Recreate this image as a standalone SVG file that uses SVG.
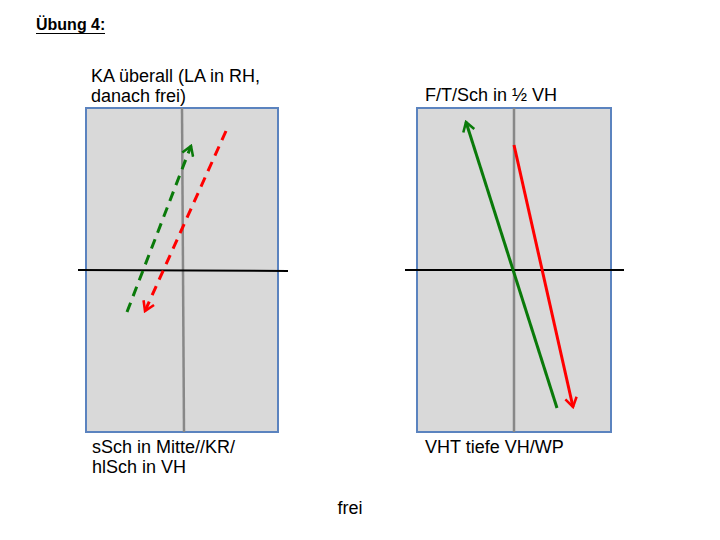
<svg xmlns="http://www.w3.org/2000/svg" width="720" height="540" viewBox="0 0 720 540">
<style>
text{font-family:"Liberation Sans",Arial,sans-serif;font-size:18px;fill:#000}
.field{fill:#d9d9d9;stroke:#5b83bf;stroke-width:2}
.mid{stroke:#888;stroke-width:2.5}
.cross{stroke:#000;stroke-width:2}
.g{stroke:#0a7a0a;stroke-width:3;fill:none}
.r{stroke:#f00;stroke-width:3;fill:none}
.d{stroke-dasharray:10 7}
</style>
<defs>
<marker id="ag" viewBox="0 0 12 12" refX="10" refY="6" markerWidth="4.6" markerHeight="4.6" orient="auto" markerUnits="strokeWidth">
<path d="M2,1 L10,6 L2,11" fill="none" stroke="#0a7a0a" stroke-width="2.2"/>
</marker>
<marker id="ar" viewBox="0 0 12 12" refX="10" refY="6" markerWidth="4.6" markerHeight="4.6" orient="auto" markerUnits="strokeWidth">
<path d="M2,1 L10,6 L2,11" fill="none" stroke="#f00" stroke-width="2.2"/>
</marker>
</defs>
<rect width="720" height="540" fill="#fff"/>
<g id="title">
<text x="36" y="30" style="font-weight:bold;font-size:16px">Übung 4:</text>
<line x1="36" y1="33.5" x2="105" y2="33.5" stroke="#000" stroke-width="1.2"/>
</g>
<g id="field-left">
<rect class="field" x="86" y="108" width="192" height="324"/>
<line class="mid" x1="182" y1="108" x2="184" y2="432"/>
<line class="cross" x1="78" y1="270" x2="288" y2="271"/>
</g>
<g id="field-right">
<rect class="field" x="417" y="108" width="194" height="324"/>
<line class="mid" x1="514" y1="108" x2="514" y2="432"/>
<line class="cross" x1="405" y1="270" x2="624" y2="270"/>
</g>
<g id="connectors">
<line class="g d" x1="127" y1="312" x2="191" y2="146" marker-end="url(#ag)"/>
<line class="r d" x1="226" y1="131" x2="145" y2="311" marker-end="url(#ar)"/>
<line class="g" x1="557" y1="408" x2="466" y2="122" marker-end="url(#ag)"/>
<line class="r" x1="514" y1="145" x2="573" y2="407" marker-end="url(#ar)"/>
</g>
<g id="labels">
<text x="91" y="82">KA überall (LA in RH,</text>
<text x="91" y="102">danach frei)</text>
<text x="425" y="101">F/T/Sch in ½ VH</text>
<text x="92" y="453">sSch in Mitte//KR/</text>
<text x="92" y="473">hlSch in VH</text>
<text x="425" y="453">VHT tiefe VH/WP</text>
<text x="350" y="514" text-anchor="middle">frei</text>
</g>
</svg>
